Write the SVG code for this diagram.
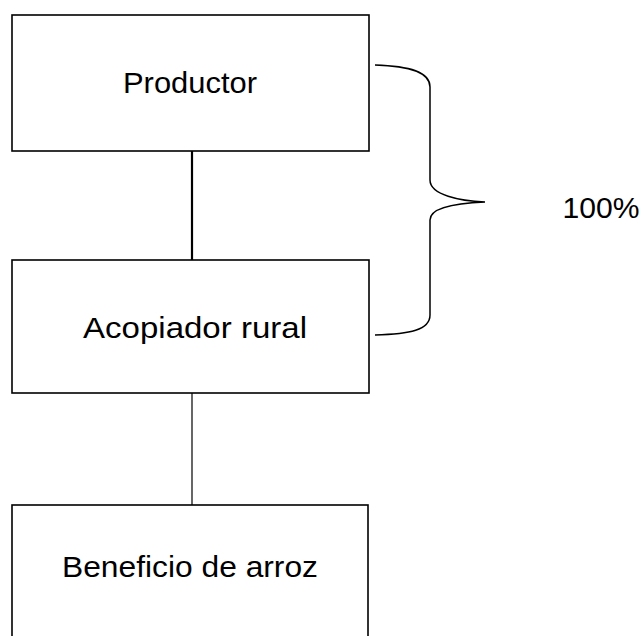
<svg xmlns="http://www.w3.org/2000/svg" width="644" height="636" viewBox="0 0 644 636">
<style>
.box{fill:#fff;stroke:#000;stroke-width:1.6}
.lbl{font-family:"Liberation Sans",Arial,sans-serif;font-size:29px;fill:#000;text-anchor:middle}
.conn{stroke:#000;fill:none}
</style>
<rect width="644" height="636" fill="#fff"/>
<g id="connectors">
<line class="conn" x1="192" y1="151" x2="192" y2="260" stroke-width="2.2"/>
<line class="conn" x1="192" y1="393" x2="192" y2="505" stroke-width="1.2"/>
</g>
<g id="productor">
<rect class="box" x="12" y="15" width="357" height="136"/>
<text class="lbl" x="190" y="93" textLength="134" lengthAdjust="spacingAndGlyphs">Productor</text>
</g>
<g id="acopiador">
<rect class="box" x="12" y="260" width="357" height="133"/>
<text class="lbl" x="195" y="338" textLength="224" lengthAdjust="spacingAndGlyphs">Acopiador rural</text>
</g>
<g id="beneficio">
<rect class="box" x="12" y="505" width="356" height="150"/>
<text class="lbl" x="190" y="577" textLength="256" lengthAdjust="spacingAndGlyphs">Beneficio de arroz</text>
</g>
<g id="brace">
<path class="conn" stroke-width="1.5" d="M375,65 C410,66 430,72 430,87 L430,180 C430,195 460,201 485,202 C460,203 430,207 430,220 L430,315 C430,330 410,334 375,335"/>
<text class="lbl" x="601" y="218" textLength="77" lengthAdjust="spacingAndGlyphs">100%</text>
</g>
</svg>
